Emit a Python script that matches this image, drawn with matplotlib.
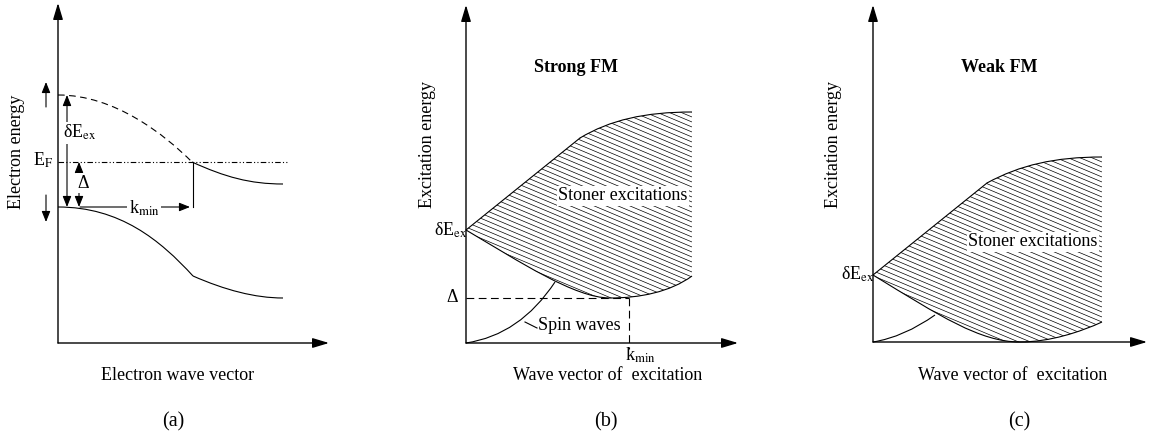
import numpy as np
import matplotlib
matplotlib.use('Agg')
import matplotlib.pyplot as plt
from matplotlib.path import Path
from matplotlib.patches import PathPatch
from matplotlib.collections import LineCollection

plt.rcParams['font.family'] = ['Liberation Serif', 'DejaVu Serif']
plt.rcParams['mathtext.fontset'] = 'stix'

# ---- panel (a): electron bands ----
a_origin = (58, 343)
a_x_tip = 329
a_upper_dash = [(58, 95), (115, 95), (165, 135), (192, 162)]     # cubic bezier
a_upper_solid = [(192, 162), (225, 177), (250, 184), (283, 184)]
a_lower_left = [(58, 207), (120, 207), (160, 240), (193, 276)]
a_lower_right = [(193, 276), (225, 290), (255, 298), (283, 298)]
a_fermi_y = 162
a_fermi_x = (58, 288)
a_kmin_x = 193

# ---- panel (b): strong FM ----
b_origin = (466, 343)
b_x_tip = 738
b_upper_line = [(466, 230), (580, 138)]
b_upper_curve = [(580, 138), (610, 120), (645, 112), (692, 112)]
b_lower_1 = [(466, 230), (520, 262), (575, 298), (610, 298)]
b_lower_2 = [(610, 298), (640, 298), (670, 292), (692, 276)]
b_spin = [(466, 343), (520, 335), (555, 282)]                   # quadratic bezier
b_delta_y = 298
b_kmin_x = 629

# ---- panel (c): weak FM ----
c_origin = (873, 342)
c_x_tip = 1147
c_upper_line = [(873, 275), (987, 183)]
c_upper_curve = [(987, 183), (1020, 165), (1055, 157), (1102, 157)]
c_lower_1 = [(873, 275), (940, 316), (980, 342), (1020, 342)]
c_lower_2 = [(1020, 342), (1050, 342), (1080, 332), (1102, 322)]
c_spin = [(873, 342), (904, 337), (935, 315)]

hatch_slope = 0.42
hatch_step = 5.0

fig = plt.figure(figsize=(11.54, 4.38), dpi=100)
ax = fig.add_axes([0, 0, 1, 1])
ax.set_xlim(0, 1154)
ax.set_ylim(438, 0)
ax.axis('off')

LW = 0.8


def bez(pts):
    codes = [Path.MOVETO] + [Path.CURVE4 if len(pts) == 4 else Path.CURVE3] * (len(pts) - 1)
    return Path(pts, codes)


def draw_curve(pts, **kw):
    kw.setdefault('lw', LW)
    ax.add_patch(PathPatch(bez(pts), fill=False, edgecolor='k', **kw))


def arrow(p0, p1, style='-|>', ms=13, lw=LW, hl=0.5, hw=0.2):
    ax.annotate('', xy=p1, xytext=p0,
                arrowprops=dict(arrowstyle=f'{style},head_length={hl},head_width={hw}',
                                mutation_scale=ms, lw=lw, color='k',
                                shrinkA=0, shrinkB=0))


def axes_arrows(origin, x_tip, y_tip=5):
    arrow(origin, (x_tip, origin[1]), ms=20, lw=1.0, hl=0.5, hw=0.15)
    arrow(origin, (origin[0], y_tip), ms=20, lw=1.0, hl=0.5, hw=0.15)


def region(upper_line, upper_curve, lower_1, lower_2):
    # closed outline: upper edge left->right, then lower edge right->left
    verts = [upper_line[0], upper_line[1]] + upper_curve[1:] + [lower_2[3]]
    codes = [Path.MOVETO, Path.LINETO] + [Path.CURVE4] * 3 + [Path.LINETO]
    verts += lower_2[2::-1] + lower_1[2::-1]
    codes += [Path.CURVE4] * 3 + [Path.CURVE4] * 3
    verts.append(upper_line[0])
    codes.append(Path.CLOSEPOLY)
    patch = PathPatch(Path(verts, codes), facecolor='none', edgecolor='none')
    ax.add_patch(patch)
    xs = [v[0] for v in verts]
    ys = [v[1] for v in verts]
    x0, x1 = min(xs), max(xs)
    cs = np.arange(min(ys) - hatch_slope * x1 - 5, max(ys) - hatch_slope * x0 + 5, hatch_step)
    segs = [[(x0, c + hatch_slope * x0), (x1, c + hatch_slope * x1)] for c in cs]
    lc = LineCollection(segs, colors='k', linewidths=0.5)
    ax.add_collection(lc)
    lc.set_clip_path(patch)
    ax.plot(*zip(*upper_line), color='k', lw=LW)
    draw_curve(upper_curve)
    draw_curve(lower_1)
    draw_curve(lower_2)


FS = 13
white = dict(facecolor='white', edgecolor='none', pad=1)

# ---------------- (a) ----------------
axes_arrows(a_origin, a_x_tip, 3)
draw_curve(a_upper_dash, linestyle=(0, (6, 4)))
draw_curve(a_upper_solid)
draw_curve(a_lower_left)
draw_curve(a_lower_right)
ax.plot(a_fermi_x, [a_fermi_y] * 2, color='k', lw=LW, dashes=[5, 2, 1, 2, 1, 2])
ax.plot([a_kmin_x] * 2, [a_fermi_y, a_lower_left[0][1]], color='k', lw=LW)
arrow((67, 95), (67, 207), style='<|-|>')
arrow((79, 162), (79, 207), style='<|-|>')
arrow((80, 207), (190, 207))
arrow((46, 107), (46, 82))
arrow((46, 195), (46, 222))
ax.text(63, 138, 'δE$_{\\mathrm{ex}}$', fontsize=FS, ha='left', va='baseline', bbox=white)
ax.text(83, 183, 'Δ', fontsize=FS, ha='center', va='center', bbox=white)
ax.text(144, 208, 'k$_{\\mathrm{min}}$', fontsize=FS, ha='center', va='center', bbox=white)
ax.text(53, 166, 'E$_{\\mathrm{F}}$', fontsize=FS, ha='right', va='baseline')
ax.text(17, 152, 'Electron energy', fontsize=FS, rotation=90, ha='center', va='center')
ax.text(178, 375, 'Electron wave vector', fontsize=FS, ha='center', va='center')
ax.text(173, 422, '(a)', fontsize=14.5, ha='center', va='center')

# ---------------- (b) ----------------
axes_arrows(b_origin, b_x_tip)
region(b_upper_line, b_upper_curve, b_lower_1, b_lower_2)
draw_curve(b_spin)
ax.plot([b_origin[0], b_kmin_x], [b_delta_y] * 2, color='k', lw=LW, dashes=[7, 4])
ax.plot([b_kmin_x] * 2, [b_delta_y, 349], color='k', lw=LW, dashes=[7, 4])
ax.plot([525, 537], [322, 328], color='k', lw=LW)
ax.text(467, 236, 'δE$_{\\mathrm{ex}}$', fontsize=FS, ha='right', va='baseline')
ax.text(452, 298, 'Δ', fontsize=FS, ha='center', va='center')
ax.text(623, 196, 'Stoner excitations', fontsize=FS, ha='center', va='center', bbox=white)
ax.text(579, 325, 'Spin waves', fontsize=FS, ha='center', va='center')
ax.text(640, 355, 'k$_{\\mathrm{min}}$', fontsize=FS, ha='center', va='center')
ax.text(576, 68, 'Strong FM', fontsize=FS, fontweight='bold', ha='center', va='center')
ax.text(428, 145, 'Excitation energy', fontsize=FS, rotation=90, ha='center', va='center')
ax.text(608, 376, 'Wave vector of  excitation', fontsize=FS, ha='center', va='center')
ax.text(606, 422, '(b)', fontsize=14.5, ha='center', va='center')

# ---------------- (c) ----------------
axes_arrows(c_origin, c_x_tip)
region(c_upper_line, c_upper_curve, c_lower_1, c_lower_2)
draw_curve(c_spin)
ax.text(874, 280, 'δE$_{\\mathrm{ex}}$', fontsize=FS, ha='right', va='baseline')
ax.text(1033, 242, 'Stoner excitations', fontsize=FS, ha='center', va='center', bbox=white)
ax.text(999, 67, 'Weak FM', fontsize=FS, fontweight='bold', ha='center', va='center')
ax.text(833, 145, 'Excitation energy', fontsize=FS, rotation=90, ha='center', va='center')
ax.text(1013, 375, 'Wave vector of  excitation', fontsize=FS, ha='center', va='center')
ax.text(1019, 422, '(c)', fontsize=14.5, ha='center', va='center')

fig.savefig('out.png', dpi=100)
